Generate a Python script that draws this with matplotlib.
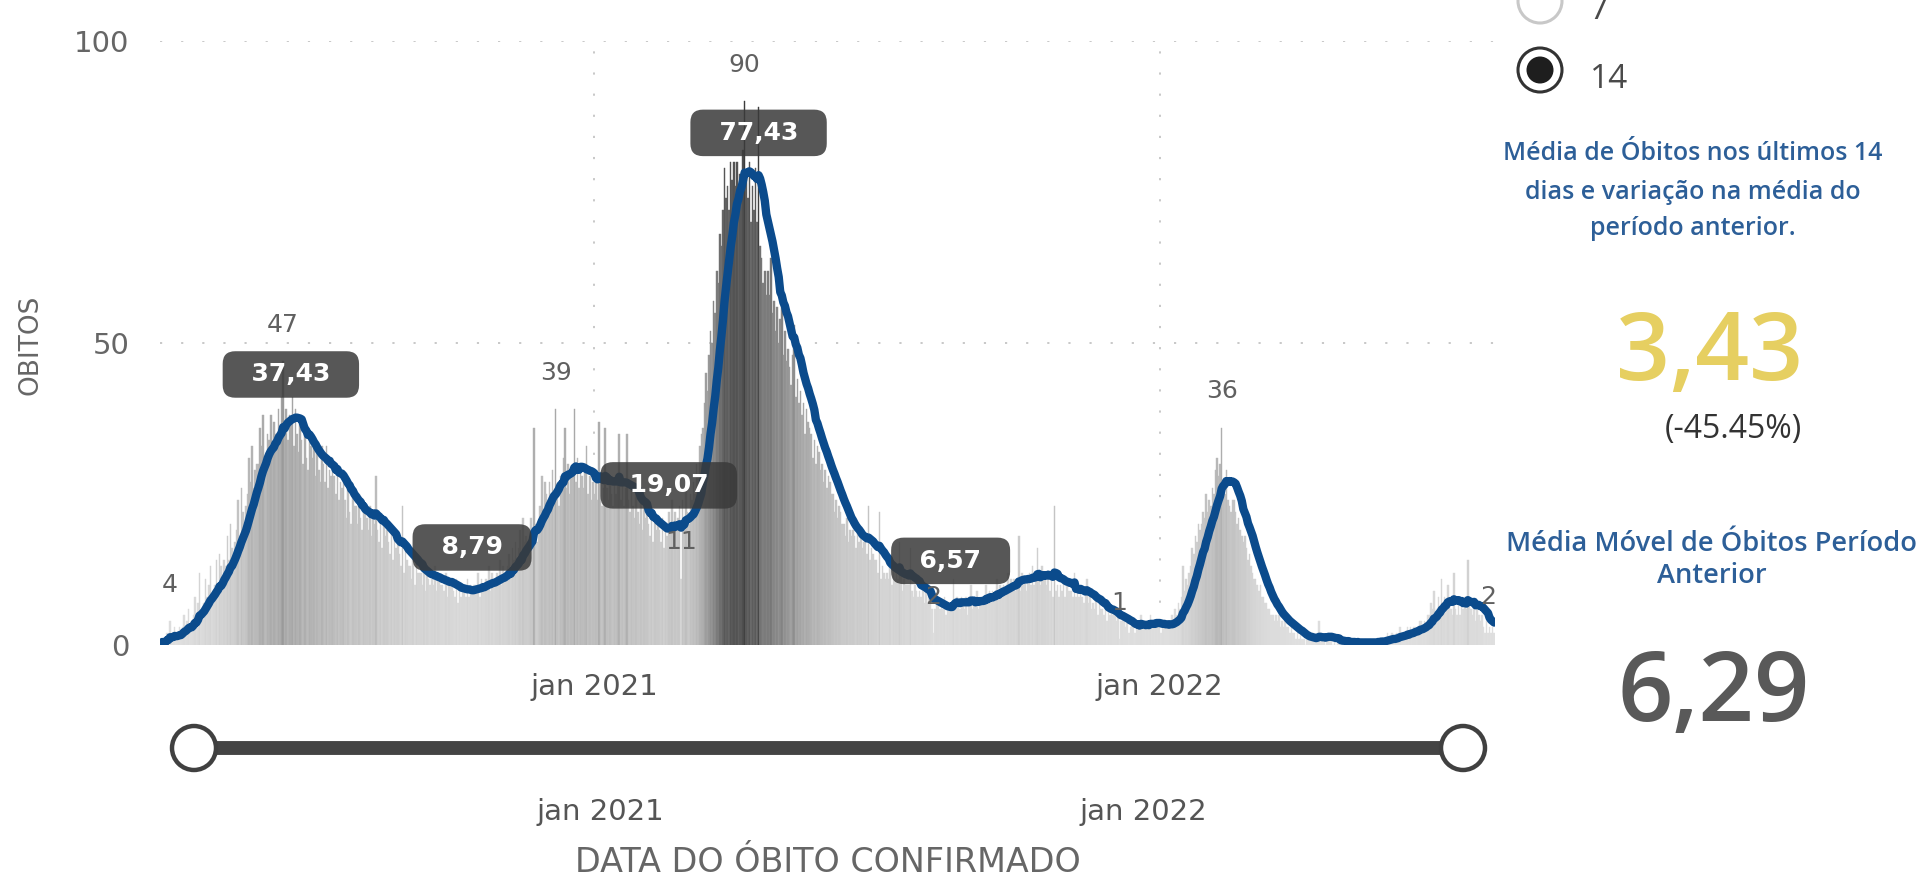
import numpy as np
import pandas as pd
import matplotlib
matplotlib.use("Agg")
import matplotlib.pyplot as plt
from matplotlib.patches import Circle

# ---------------- data ----------------
inicio = "2020-03-27"
obitos_diarios = [
    0, 1, 0, 1, 2, 1, 4,
    1, 2, 3, 1, 2, 3, 2,
    3, 5, 2, 4, 6, 3, 4,
    5, 8, 4, 7, 12, 5, 6,
    7, 11, 8, 10, 13, 7, 9,
    10, 14, 9, 15, 13, 11, 14,
    13, 18, 14, 20, 16, 15, 17,
    19, 24, 18, 26, 22, 20, 23,
    25, 31, 27, 33, 26, 29, 30,
    30, 36, 33, 38, 31, 29, 35,
    34, 38, 32, 37, 35, 33, 39,
    36, 41, 47, 35, 39, 34, 38,
    37, 41, 33, 39, 35, 32, 38,
    34, 30, 36, 31, 29, 35, 33,
    31, 34, 28, 32, 29, 27, 33,
    30, 27, 33, 26, 29, 28, 31,
    28, 25, 30, 24, 27, 26, 29,
    24, 21, 26, 22, 20, 25, 23,
    23, 20, 25, 21, 19, 24, 22,
    21, 19, 23, 18, 22, 20, 28,
    19, 17, 21, 16, 20, 18, 19,
    17, 15, 19, 14, 18, 16, 17,
    15, 13, 23, 12, 16, 14, 13,
    13, 11, 15, 10, 14, 12, 12,
    12, 10, 14, 9, 13, 11, 10,
    11, 10, 13, 9, 12, 11, 10,
    10, 9, 12, 8, 11, 10, 10,
    9, 8, 11, 7, 10, 8, 9,
    9, 8, 11, 8, 10, 9, 10,
    10, 9, 12, 8, 11, 10, 9,
    11, 10, 13, 9, 12, 10, 11,
    12, 11, 14, 10, 13, 11, 12,
    13, 15, 12, 16, 14, 17, 14,
    16, 19, 15, 21, 17, 18, 17,
    18, 21, 17, 36, 20, 17, 19,
    23, 28, 22, 27, 25, 24, 27,
    25, 29, 24, 39, 26, 23, 28,
    27, 31, 36, 26, 30, 25, 29,
    28, 39, 27, 31, 26, 30, 28,
    26, 29, 33, 25, 28, 24, 27,
    25, 28, 24, 37, 27, 23, 26,
    36, 26, 24, 28, 25, 23, 27,
    25, 28, 35, 24, 27, 23, 26,
    35, 24, 22, 26, 23, 21, 25,
    22, 20, 24, 19, 23, 21, 22,
    20, 18, 22, 17, 21, 19, 20,
    19, 17, 21, 16, 20, 18, 22,
    20, 24, 18, 22, 19, 21, 23,
    11, 24, 21, 26, 22, 20, 25,
    24, 27, 25, 30, 28, 33, 35,
    36, 40, 45, 42, 48, 52, 50,
    57, 55, 62, 60, 68, 66, 72,
    79, 74, 76, 72, 80, 77, 80,
    76, 80, 74, 78, 77, 82, 90,
    78, 74, 80, 70, 76, 72, 79,
    70, 89, 66, 64, 60, 62, 58,
    62, 58, 64, 55, 57, 52, 56,
    50, 54, 58, 48, 52, 47, 49,
    46, 43, 48, 53, 41, 44, 40,
    42, 38, 40, 35, 39, 37, 36,
    35, 31, 34, 30, 33, 32, 29,
    30, 27, 29, 26, 28, 27, 25,
    25, 22, 24, 21, 23, 22, 20,
    20, 18, 21, 17, 19, 18, 19,
    18, 16, 19, 17, 18, 16, 17,
    17, 15, 23, 14, 16, 15, 14,
    14, 12, 22, 11, 13, 12, 11,
    12, 11, 14, 10, 13, 11, 12,
    11, 17, 12, 9, 11, 10, 10,
    10, 16, 9, 8, 10, 9, 8,
    9, 8, 10, 7, 9, 7, 8,
    7, 6, 2, 6, 8, 7, 6,
    7, 6, 8, 5, 7, 6, 7,
    7, 11, 6, 8, 7, 6, 8,
    7, 6, 8, 5, 7, 10, 6,
    8, 7, 9, 6, 8, 7, 8,
    8, 10, 7, 9, 8, 9, 8,
    9, 11, 8, 10, 9, 10, 9,
    10, 12, 9, 11, 10, 11, 9,
    11, 18, 9, 12, 10, 11, 9,
    11, 12, 10, 13, 10, 12, 16,
    12, 10, 13, 11, 12, 10, 11,
    9, 11, 8, 23, 9, 10, 8,
    10, 9, 11, 8, 10, 9, 9,
    9, 8, 12, 8, 9, 8, 10,
    8, 7, 9, 11, 7, 8, 6,
    7, 6, 8, 5, 7, 6, 6,
    5, 6, 4, 6, 5, 6, 5,
    5, 4, 6, 1, 4, 5, 4,
    3, 4, 2, 3, 4, 3, 2,
    3, 4, 3, 5, 3, 4, 3,
    4, 3, 5, 3, 4, 3, 4,
    3, 4, 2, 4, 3, 3, 3,
    3, 4, 5, 4, 6, 5, 7,
    6, 8, 13, 9, 11, 10, 12,
    13, 16, 15, 18, 17, 20, 19,
    20, 22, 21, 25, 22, 24, 23,
    26, 25, 29, 31, 28, 30, 36,
    27, 25, 29, 24, 23, 22, 24,
    24, 22, 20, 21, 19, 18, 17,
    18, 16, 14, 15, 13, 12, 11,
    11, 10, 9, 10, 8, 8, 7,
    7, 6, 6, 5, 5, 4, 5,
    4, 5, 3, 4, 3, 4, 3,
    3, 2, 3, 2, 2, 1, 2,
    1, 2, 1, 1, 0, 1, 1,
    1, 1, 2, 1, 1, 2, 4,
    1, 1, 1, 0, 1, 2, 1,
    1, 0, 1, 0, 1, 1, 0,
    0, 1, 0, 0, 1, 0, 1,
    1, 0, 0, 1, 0, 1, 0,
    0, 1, 0, 0, 1, 0, 1,
    1, 0, 1, 1, 1, 0, 1,
    1, 2, 1, 1, 2, 1, 1,
    2, 1, 3, 2, 2, 1, 2,
    3, 2, 3, 2, 3, 3, 2,
    3, 4, 4, 3, 4, 3, 5,
    5, 7, 6, 9, 5, 6, 8,
    6, 11, 7, 8, 6, 10, 7,
    6, 5, 12, 6, 5, 7, 5,
    7, 6, 8, 6, 14, 7, 6,
    5, 6, 4, 7, 5, 4, 5,
    3, 2, 4, 2, 3, 2, 3,
    2,
]
janela_media = 14
rotulos_barras_idx = [6, 79, 255, 336, 377, 499, 619, 685, 857]
rotulos_media_idx = [84, 201, 328, 386, 510]
rotulos_media_val = [37.43, 8.79, 19.07, 77.43, 6.57]
ticks_x = ["2021-01-01", "2022-01-01"]
ticks_x_labels = ["jan 2021", "jan 2022"]
ticks_y = [0, 50, 100]
opcoes_janela = [7, 14]
opcao_selecionada = 14
media_ultimos = 3.43
variacao_pct = -45.45
media_anterior = 6.29

# ---------------- figure ----------------
plt.rcParams["font.family"] = ["DejaVu Sans"]
KPI_FONT = ["Open Sans", "DejaVu Sans"]
W, H = 1933, 877
fig = plt.figure(figsize=(W / 100, H / 100), dpi=100)
fig.patch.set_facecolor("white")

ax = fig.add_axes([160 / W, 1 - 645 / H, 1335 / W, (645 - 41) / H])

datas = pd.date_range(inicio, periods=len(obitos_diarios), freq="D")
serie = pd.Series(obitos_diarios, index=datas, dtype=float)
media_movel = serie.rolling(janela_media, min_periods=1).mean()

vals = serie.values
g = (224 - 164 * np.clip(vals / 90.0, 0, 1) ** 1.3) / 255.0
cores = np.stack([g, g, g], axis=1)
ax.bar(datas, vals, width=1.0, color=cores, edgecolor=cores, linewidth=0.3, zorder=2)
ax.plot(datas, media_movel.values, color="#0b4b8c", lw=6,
        solid_capstyle="round", solid_joinstyle="round", zorder=4)

ax.set_xlim(datas[0] - pd.Timedelta(hours=12), datas[-1] + pd.Timedelta(hours=12))
ax.set_ylim(0, 100)

grid_kw = dict(color="#c4c4c4", lw=1.3, linestyle=(0, (1.2, 10.5)), zorder=1)
for yv in ticks_y[1:]:
    ax.axhline(yv, **grid_kw)
tx = pd.to_datetime(ticks_x)
for t in tx:
    ax.axvline(t, **grid_kw)

ax.set_yticks(ticks_y)
ax.set_yticklabels([str(v) for v in ticks_y])
ax.set_xticks(tx)
ax.set_xticklabels(ticks_x_labels)
ax.tick_params(axis="y", length=0, pad=22, labelsize=21, labelcolor="#666666")
ax.tick_params(axis="x", length=0, pad=20, labelsize=21, labelcolor="#555555")
for s in ax.spines.values():
    s.set_visible(False)
ax.set_facecolor("none")

for i in rotulos_barras_idx:
    v = obitos_diarios[i]
    ax.annotate(str(v), (datas[i], v), xytext=(0, 26), textcoords="offset points",
                ha="center", va="center", fontsize=18, color="#606060", zorder=5)

for i, v in zip(rotulos_media_idx, rotulos_media_val):
    txt = f"{v:.2f}".replace(".", ",")
    ax.annotate(f"  {txt}  ", (datas[i], v), xytext=(0, 32), textcoords="offset points",
                ha="center", va="center", fontsize=18, fontweight="bold", color="white",
                bbox=dict(boxstyle="round,pad=0.45,rounding_size=0.5", fc="#3a3a3a",
                          ec="none", alpha=0.85),
                zorder=6)

# ---------------- overlay (pixel coordinates) ----------------
ov = fig.add_axes([0, 0, 1, 1])
ov.set_xlim(0, W)
ov.set_ylim(H, 0)
ov.axis("off")

ov.text(31, 345, "OBITOS", rotation=90, ha="center", va="center",
        fontsize=19, color="#666666")

# slider
ov.plot([194, 1463], [748, 748], color="#444444", lw=10, solid_capstyle="butt", zorder=2)
for cx in (194, 1463):
    ov.add_patch(Circle((cx, 748), 22, fc="white", ec="#404040", lw=3.2, zorder=3))
ov.text(600, 820, ticks_x_labels[0], ha="center", va="baseline", fontsize=21, color="#555555")
ov.text(1143, 820, ticks_x_labels[1], ha="center", va="baseline", fontsize=21, color="#555555")
ov.text(828, 872, "DATA DO ÓBITO CONFIRMADO", ha="center", va="baseline",
        fontsize=24, color="#666666")

# radio buttons (the first option is partly above the visible area, as in the source)
radio_y = {opcoes_janela[0]: 1, opcoes_janela[1]: 70}
for op in opcoes_janela:
    cy = radio_y[op]
    if op == opcao_selecionada:
        ov.add_patch(Circle((1540, cy), 22, fc="white", ec="#333333", lw=2.2))
        ov.add_patch(Circle((1540, cy), 13.5, fc="#1e1e1e", ec="none"))
    else:
        ov.add_patch(Circle((1540, cy), 22, fc="white", ec="#c8c8c8", lw=2.2))
    ov.text(1590, cy + 18, str(op), ha="left", va="baseline", fontsize=24,
            color="#4a4a4a", family=KPI_FONT)

# KPI panel
azul = "#2d5f98"
for yb, linha in zip([160, 199, 235], ["Média de Óbitos nos últimos 14",
                                       "dias e variação na média do",
                                       "período anterior."]):
    ov.text(1693, yb, linha, ha="center", va="baseline", fontsize=18, color=azul,
            family=KPI_FONT, fontweight="semibold")
ov.text(1710, 380, f"{media_ultimos:.2f}".replace(".", ","), ha="center", va="baseline",
        fontsize=68, color="#e6cf61", family=KPI_FONT, fontweight="semibold")
ov.text(1733, 438, f"({variacao_pct:.2f}%)", ha="center", va="baseline",
        fontsize=23, color="#333333", family=KPI_FONT)
for yb, linha in zip([551, 583], ["Média Móvel de Óbitos Período", "Anterior"]):
    ov.text(1712, yb, linha, ha="center", va="baseline", fontsize=19.6, color=azul,
            family=KPI_FONT, fontweight="semibold")
ov.text(1714, 721, f"{media_anterior:.2f}".replace(".", ","), ha="center", va="baseline",
        fontsize=70, color="#595959", family=KPI_FONT, fontweight="semibold")

fig.savefig("out.png", dpi=100, facecolor="white")
